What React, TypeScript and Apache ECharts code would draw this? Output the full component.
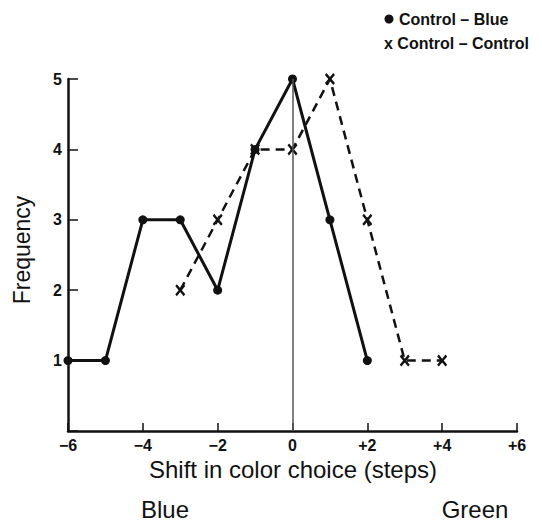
import React, { useEffect, useRef } from "react";
import * as echarts from "echarts";

const xBlue = [-6, -5, -4, -3, -2, -1, 0, 1, 2];
const yBlue = [1, 1, 3, 3, 2, 4, 5, 3, 1];
const xCtrl = [-3, -2, -1, 0, 1, 2, 3, 4];
const yCtrl = [2, 3, 4, 4, 5, 3, 1, 1];
const seriesNames = ["Control – Blue", "Control – Control"];
const xName = "Shift in color choice (steps)";
const yName = "Frequency";
const endLabels = ["Blue", "Green"];

const X_SYMBOL =
  "path://M0,1.6L1.6,0L5,3.4L8.4,0L10,1.6L6.6,5L10,8.4L8.4,10L5,6.6L1.6,10L0,8.4L3.4,5Z";

const FONT = "Liberation Sans, Arial, Helvetica, sans-serif";

export default function App() {
  const ref = useRef<HTMLDivElement>(null);
  useEffect(() => {
    if (!ref.current) return;
    const chart = echarts.init(ref.current, null, { renderer: "svg" });
    const option: any = {
      animation: false,
      backgroundColor: "#ffffff",
      grid: { left: 68, right: 25, top: 79, bottom: 90 },
      xAxis: {
        type: "value",
        min: -6,
        max: 6,
        interval: 2,
        axisLine: { show: true, lineStyle: { color: "#111", width: 2.5 } },
        axisTick: { show: true, inside: true, length: 8, lineStyle: { color: "#111", width: 1.5 } },
        splitLine: { show: false },
        axisLabel: {
          color: "#111",
          fontFamily: FONT,
          fontWeight: "bold",
          fontSize: 16,
          margin: 6,
          formatter: (v: number) => (v > 0 ? "+" + v : v < 0 ? "−" + Math.abs(v) : "0"),
        },
      },
      yAxis: {
        type: "value",
        min: 0,
        max: 5,
        interval: 1,
        axisLine: { show: true, onZero: false, lineStyle: { color: "#111", width: 2.5 } },
        axisTick: { show: true, inside: true, length: 10, lineStyle: { color: "#111", width: 1.5 } },
        splitLine: { show: false },
        axisLabel: {
          color: "#111",
          fontFamily: FONT,
          fontWeight: "bold",
          fontSize: 16,
          margin: 6,
          formatter: (v: number) => (v === 0 ? "" : String(v)),
        },
      },
      series: [
        {
          name: seriesNames[0],
          type: "line",
          data: xBlue.map((x, i) => [x, yBlue[i]]),
          symbol: "circle",
          symbolSize: 9,
          lineStyle: { color: "#111", width: 3 },
          itemStyle: { color: "#111" },
          z: 3,
          markLine: {
            silent: true,
            symbol: "none",
            label: { show: false },
            lineStyle: { color: "#555", width: 1.5, type: "solid" },
            data: [{ xAxis: 0 }],
          },
        },
        {
          name: seriesNames[1],
          type: "line",
          data: xCtrl.map((x, i) => [x, yCtrl[i]]),
          symbol: X_SYMBOL,
          symbolSize: [10, 12],
          lineStyle: { color: "#111", width: 2.5, type: [9, 6] },
          itemStyle: { color: "#111" },
          z: 4,
        },
      ],
      graphic: [
        { type: "circle", shape: { cx: 389, cy: 19, r: 4.5 }, style: { fill: "#111" } },
        {
          type: "text",
          x: 399,
          y: 19,
          style: {
            text: seriesNames[0],
            fill: "#111",
            font: `bold 16px ${FONT}`,
            textVerticalAlign: "middle",
          },
        },
        {
          type: "text",
          x: 384,
          y: 43,
          style: {
            text: "x " + seriesNames[1],
            fill: "#111",
            font: `bold 16px ${FONT}`,
            textVerticalAlign: "middle",
          },
        },
        {
          type: "text",
          x: 293,
          y: 469,
          style: {
            text: xName,
            fill: "#111",
            font: `24px ${FONT}`,
            textAlign: "center",
            textVerticalAlign: "middle",
          },
        },
        {
          type: "text",
          x: 165,
          y: 509,
          style: {
            text: endLabels[0],
            fill: "#111",
            font: `24px ${FONT}`,
            textAlign: "center",
            textVerticalAlign: "middle",
          },
        },
        {
          type: "text",
          x: 475,
          y: 509,
          style: {
            text: endLabels[1],
            fill: "#111",
            font: `24px ${FONT}`,
            textAlign: "center",
            textVerticalAlign: "middle",
          },
        },
        {
          type: "text",
          x: 22,
          y: 250,
          rotation: Math.PI / 2,
          style: {
            text: yName,
            fill: "#111",
            font: `23px ${FONT}`,
            textAlign: "center",
            textVerticalAlign: "middle",
          },
        },
      ],
    };
    chart.setOption(option);
    return () => chart.dispose();
  }, []);
  return (
    <div
      ref={ref}
      style={{ position: "fixed", left: 0, top: 0, width: 542, height: 521, background: "#fff" }}
    />
  );
}
